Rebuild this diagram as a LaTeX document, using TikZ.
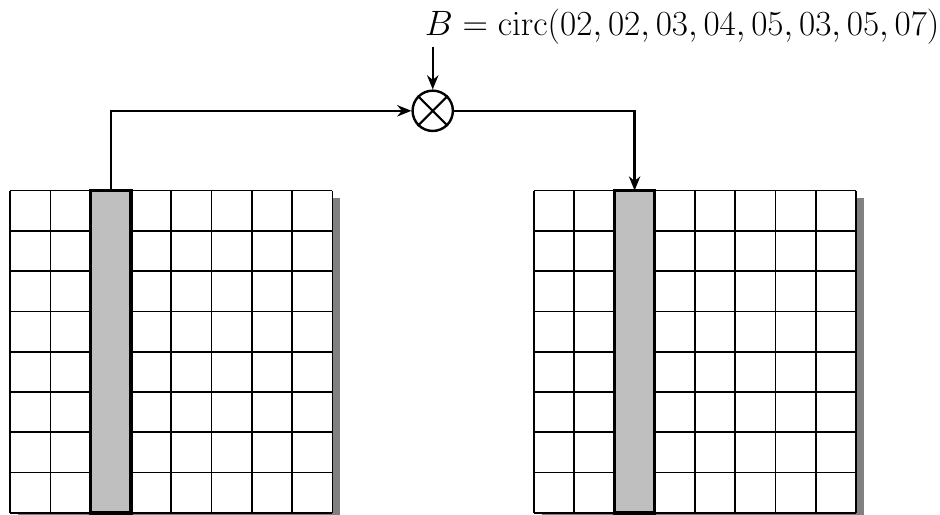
\documentclass[tikz,border=0pt]{standalone}
\usetikzlibrary{arrows.meta}
\begin{document}
\begin{tikzpicture}[>={Stealth[length=10pt,width=8pt]},
    every node/.style={font=\fontsize{25}{30}\selectfont},
    cell/.style={line width=1.2pt},
    col/.style={fill=gray!50, line width=2.4pt},
    link/.style={line width=1.7pt}]
  \useasboundingbox (-0.25,-0.05) rectangle (23.08,12.73);

  \coordinate (LB) at (0,0);
  \coordinate (RB) at (13,0);
  \coordinate (LC) at (2.5,8);
  \coordinate (RC) at (15.5,8);
  \coordinate (Mx) at (10.49,9.98);

  \foreach \g in {LB,RB} {
    \fill[gray] ([shift={(.2,-.18)}]\g) rectangle ++(8,8);
    \fill[white] (\g) rectangle ++(8,8);
    \draw[cell] (\g) grid ++(8,8);
    \draw[col] ([xshift=2cm]\g) rectangle ++(1,8);
  }

  \node[circle, draw, line width=1.7pt, minimum size=1cm, inner sep=0pt] (mult) at (Mx) {};
  \draw[line width=1.5pt] (mult.north west)--(mult.south east)
                          (mult.north east)--(mult.south west);
  \node[anchor=base west, inner sep=2pt] (coef) at (10.22,11.86)
    {$B=\mathrm{circ}(02,02,03,04,05,03,05,07)$};

  \draw[link,->] (LC) |- (mult);
  \draw[link,->] (mult) -| (RC);
  \draw[link,->] (coef.south west -| mult) -- (mult);
\end{tikzpicture}
\end{document}
